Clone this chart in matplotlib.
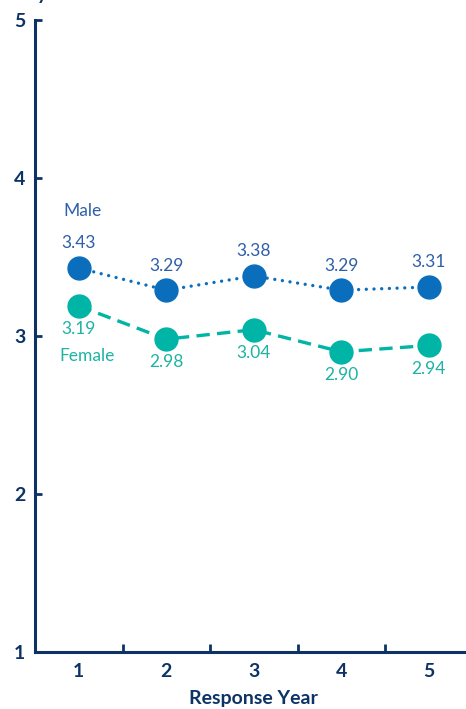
import matplotlib
matplotlib.use("Agg")
import matplotlib.pyplot as plt

years = [1, 2, 3, 4, 5]
year_labels = ["1", "2", "3", "4", "5"]
male = [3.43, 3.29, 3.38, 3.29, 3.31]
female = [3.19, 2.98, 3.04, 2.90, 2.94]
yticks = [1, 2, 3, 4, 5]

plt.rcParams['font.family'] = ['Lato', 'DejaVu Sans']

navy = "#0d3366"
male_c = "#0a6ebd"
male_txt = "#2e5fa8"
fem_c = "#00b4a6"
fem_txt = "#1db3a3"

W, H = 466, 709
fig = plt.figure(figsize=(W / 100, H / 100), dpi=100)
left = 35 / W
bottom = 1 - 652 / H
top = 1 - 20 / H
width = 437.5 / W
ax = fig.add_axes([left, bottom, width, top - bottom])
ax.set_xlim(0.5, 5.5)
ax.set_ylim(1, 5)

ax.plot(years, male, color=male_c, linestyle=(0, (0.01, 2.3)), linewidth=2.4,
        dash_capstyle='round', marker='o', markersize=16.5, zorder=3, clip_on=False)
ax.plot(years, female, color=fem_c, linestyle=(0, (4, 2.2)), linewidth=2.4,
        marker='o', markersize=16.5, zorder=3, clip_on=False)

for x, v in zip(years, male):
    ax.annotate(f"{v:.2f}", (x, v), xytext=(0, 12), textcoords='offset points',
                ha='center', va='bottom', color=male_txt, fontsize=12.5)
for x, v in zip(years, female):
    ax.annotate(f"{v:.2f}", (x, v), xytext=(0, -11), textcoords='offset points',
                ha='center', va='top', color=fem_txt, fontsize=12.5)

ax.annotate("Male", (years[0], male[0]), xytext=(3, 35), textcoords='offset points',
            ha='center', va='bottom', color=male_txt, fontsize=12.5)
ax.annotate("Female", (years[0], female[0]), xytext=(6, -30), textcoords='offset points',
            ha='center', va='top', color=fem_txt, fontsize=12.5)

for s in ['top', 'right']:
    ax.spines[s].set_visible(False)
for s in ['left', 'bottom']:
    ax.spines[s].set_color(navy)
    ax.spines[s].set_linewidth(2.2)

ax.set_yticks(yticks)
ax.set_yticklabels([str(t) for t in yticks], fontsize=14, fontweight='bold', color=navy)
ax.tick_params(axis='y', direction='in', length=5, width=2, color=navy, pad=7)

ax.set_xticks(years)
ax.set_xticklabels(year_labels, fontsize=14, fontweight='bold', color=navy)
ax.tick_params(axis='x', length=0, pad=8)
ax.set_xticks([1.5, 2.5, 3.5, 4.5], minor=True)
ax.tick_params(axis='x', which='minor', direction='in', length=6, width=2, color=navy)

ax.set_xlabel("Response Year", fontsize=14, fontweight='bold', color=navy)
ax.xaxis.set_label_coords((253 - 35) / 437.5, -(690 - 652) / 632)

fig.text(42 / W, 1.0, "y", ha='center', va='baseline', fontsize=14,
         fontweight='bold', color=navy)

fig.savefig("out.png", dpi=100)
